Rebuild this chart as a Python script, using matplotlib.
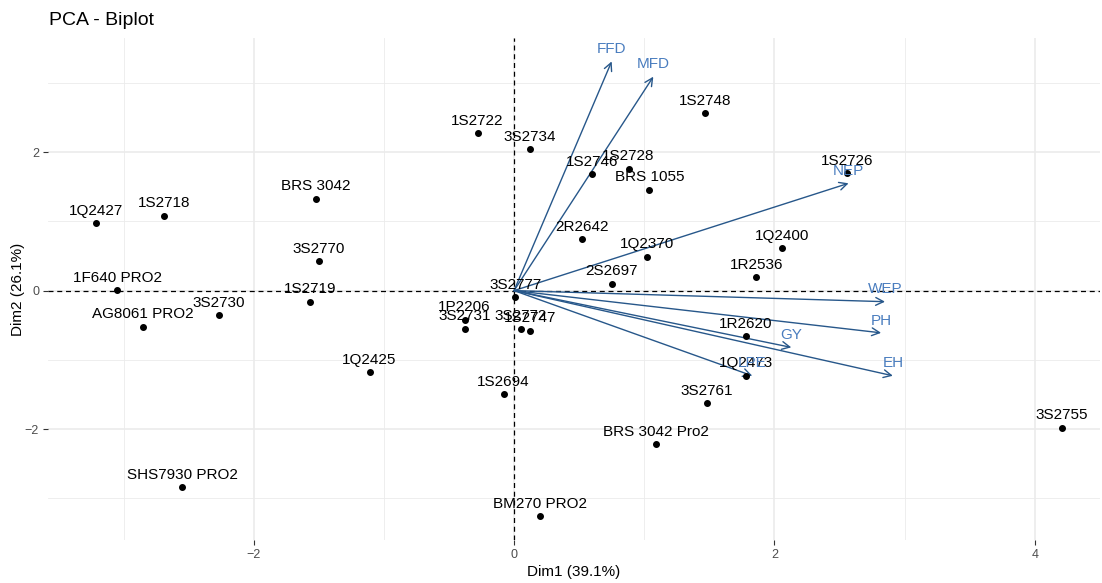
import matplotlib.pyplot as plt
from matplotlib.ticker import MultipleLocator

plt.rcParams['font.family'] = ['Liberation Sans', 'DejaVu Sans']

# Indivíduos (genótipos)
nomes = ['1Q2427', '1S2718', 'BRS 3042', '3S2770', '1F640 PRO2', 'AG8061 PRO2',
         '3S2730', '1S2719', '1Q2425', '1S2722', '3S2734', '1S2748', '1S2746',
         '1S2728', 'BRS 1055', '1S2726', '2R2642', '1Q2370', '1Q2400', '1R2536',
         '2S2697', '3S2777', '1P2206', '3S2731', '3S2772', '1S2747', '1S2694',
         '1R2620', '1Q2473', '3S2761', 'BRS 3042 Pro2', '3S2755', 'SHS7930 PRO2',
         'BM270 PRO2']
dim1 = [-3.21, -2.69, -1.52, -1.50, -3.05, -2.85,
        -2.27, -1.57, -1.11, -0.28, 0.12, 1.47, 0.60,
        0.88, 1.04, 2.56, 0.52, 1.02, 2.06, 1.86,
        0.75, 0.01, -0.38, -0.38, 0.05, 0.12, -0.08,
        1.78, 1.78, 1.48, 1.09, 4.21, -2.55,
        0.20]
dim2 = [0.97, 1.08, 1.33, 0.43, 0.01, -0.52,
        -0.35, -0.16, -1.18, 2.27, 2.04, 2.56, 1.68,
        1.76, 1.46, 1.70, 0.74, 0.49, 0.61, 0.19,
        0.10, -0.09, -0.42, -0.55, -0.55, -0.58, -1.50,
        -0.66, -1.23, -1.63, -2.22, -1.98, -2.84,
        -3.26]

# Variáveis
variaveis = ['FFD', 'MFD', 'NEP', 'WEP', 'PH', 'GY', 'EH', 'LPE']
var_dim1 = [0.75, 1.07, 2.57, 2.85, 2.82, 2.13, 2.91, 1.83]
var_dim2 = [3.31, 3.09, 1.55, -0.16, -0.61, -0.82, -1.23, -1.23]

fig = plt.figure(figsize=(11.02, 5.83), dpi=100)
ax = fig.add_axes([0.0436, 0.074, 0.9544, 0.861])

# Pontos e rótulos
ax.scatter(dim1, dim2, s=16, color='black', zorder=4)
for nome, x, y in zip(nomes, dim1, dim2):
    ax.annotate(nome, (x, y), xytext=(0, 6), textcoords='offset points',
                ha='center', va='baseline', fontsize=11, color='black', zorder=5)

# Setas das variáveis
for nome, x, y in zip(variaveis, var_dim1, var_dim2):
    ax.annotate('', xy=(x, y), xytext=(0, 0),
                arrowprops=dict(arrowstyle='->', color='#27578A', lw=1.0,
                                shrinkA=0, shrinkB=0, mutation_scale=14),
                zorder=3)
    ax.annotate(nome, (x, y), xytext=(0, 6), textcoords='offset points',
                ha='center', va='baseline', fontsize=11, color='#4A7DBF', zorder=5)

ax.axhline(0, color='black', lw=0.9, linestyle=(0, (4, 3)), zorder=2)
ax.axvline(0, color='black', lw=0.9, linestyle=(0, (4, 3)), zorder=2)

ax.set_xlim(-3.58, 4.5)
ax.set_ylim(-3.6, 3.65)
ax.xaxis.set_major_locator(MultipleLocator(2))
ax.yaxis.set_major_locator(MultipleLocator(2))
ax.xaxis.set_minor_locator(MultipleLocator(1))
ax.yaxis.set_minor_locator(MultipleLocator(1))
ax.grid(True, which='major', color='#EBEBEB', lw=1.2, zorder=0)
ax.grid(True, which='minor', color='#EBEBEB', lw=0.6, zorder=0)
ax.set_axisbelow(True)
for s in ax.spines.values():
    s.set_visible(False)
ax.tick_params(which='major', length=3.5, width=0.8, color='#333333',
               labelsize=9, labelcolor='#4D4D4D', pad=3)
ax.tick_params(which='minor', length=0)

ax.set_xlabel('Dim1 (39.1%)', fontsize=11, labelpad=3)
ax.set_ylabel('Dim2 (26.1%)', fontsize=11, labelpad=0)
fig.text(0.0445, 0.965, 'PCA - Biplot', fontsize=14, ha='left', va='center')

fig.savefig('out.png', dpi=100)
